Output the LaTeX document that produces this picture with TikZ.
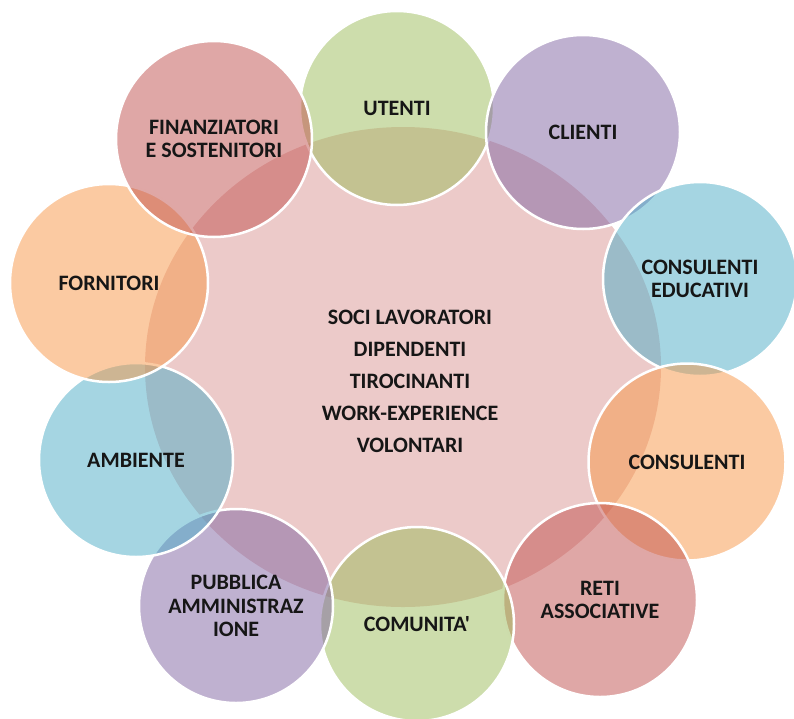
\documentclass[tikz,border=0pt]{standalone}
\usepackage{fontspec}
\setmainfont{Carlito}[Ligatures=TeXOff]
\usetikzlibrary{shapes.geometric}
\definecolor{ored}{HTML}{C0504D}
\definecolor{ogreen}{HTML}{9BBB59}
\definecolor{opurple}{HTML}{8064A2}
\definecolor{oaqua}{HTML}{4BACC6}
\definecolor{oorange}{HTML}{F79646}
\definecolor{txt}{HTML}{161616}
\tikzset{
  circ/.style={circle, draw=white, line width=2.5pt, fill=#1, fill opacity=0.5,
    draw opacity=1, text opacity=1, minimum size=194pt, inner sep=0pt,
    align=center, text=txt, font=\bfseries\fontsize{22}{23.5}\selectfont},
  centrebox/.style={ellipse, minimum width=516pt, minimum height=480pt,
    inner sep=0pt, fill=ored, fill opacity=0.3},
  centretext/.style={align=center, text=txt, font=\bfseries\fontsize{22}{32}\selectfont}
}
\begin{document}
\begin{tikzpicture}[x=1pt,y=-1pt]
\useasboundingbox (0,0) rectangle (794,718);
\node[centrebox] (centre) at (403,367) {};
\node[centretext] (soci) at (410,381) {SOCI LAVORATORI\\DIPENDENTI\\TIROCINANTI\\WORK-EXPERIENCE\\VOLONTARI};
\node[circ=ogreen] (utenti) at (397,108) {UTENTI};
\node[circ=opurple] (clienti) at (583,132) {CLIENTI};
\node[circ=oaqua] (consedu) at (700,279) {CONSULENTI\\EDUCATIVI};
\node[circ=oorange, minimum size=197pt] (consulenti) at (687,462) {CONSULENTI};
\node[circ=ored] (reti) at (600,600) {RETI\\ASSOCIATIVE};
\node[circ=ogreen] (comunita) at (417,624) {COMUNITA'};
\node[circ=opurple] (pa) at (236,606) {PUBBLICA\\AMMINISTRAZ\\IONE};
\node[circ=oaqua] (ambiente) at (136,460) {AMBIENTE};
\node[circ=oorange, minimum size=198pt] (fornitori) at (109,283) {FORNITORI};
\node[circ=ored, minimum size=196pt] (finanz) at (214,139) {FINANZIATORI\\E SOSTENITORI};
\end{tikzpicture}
\end{document}
